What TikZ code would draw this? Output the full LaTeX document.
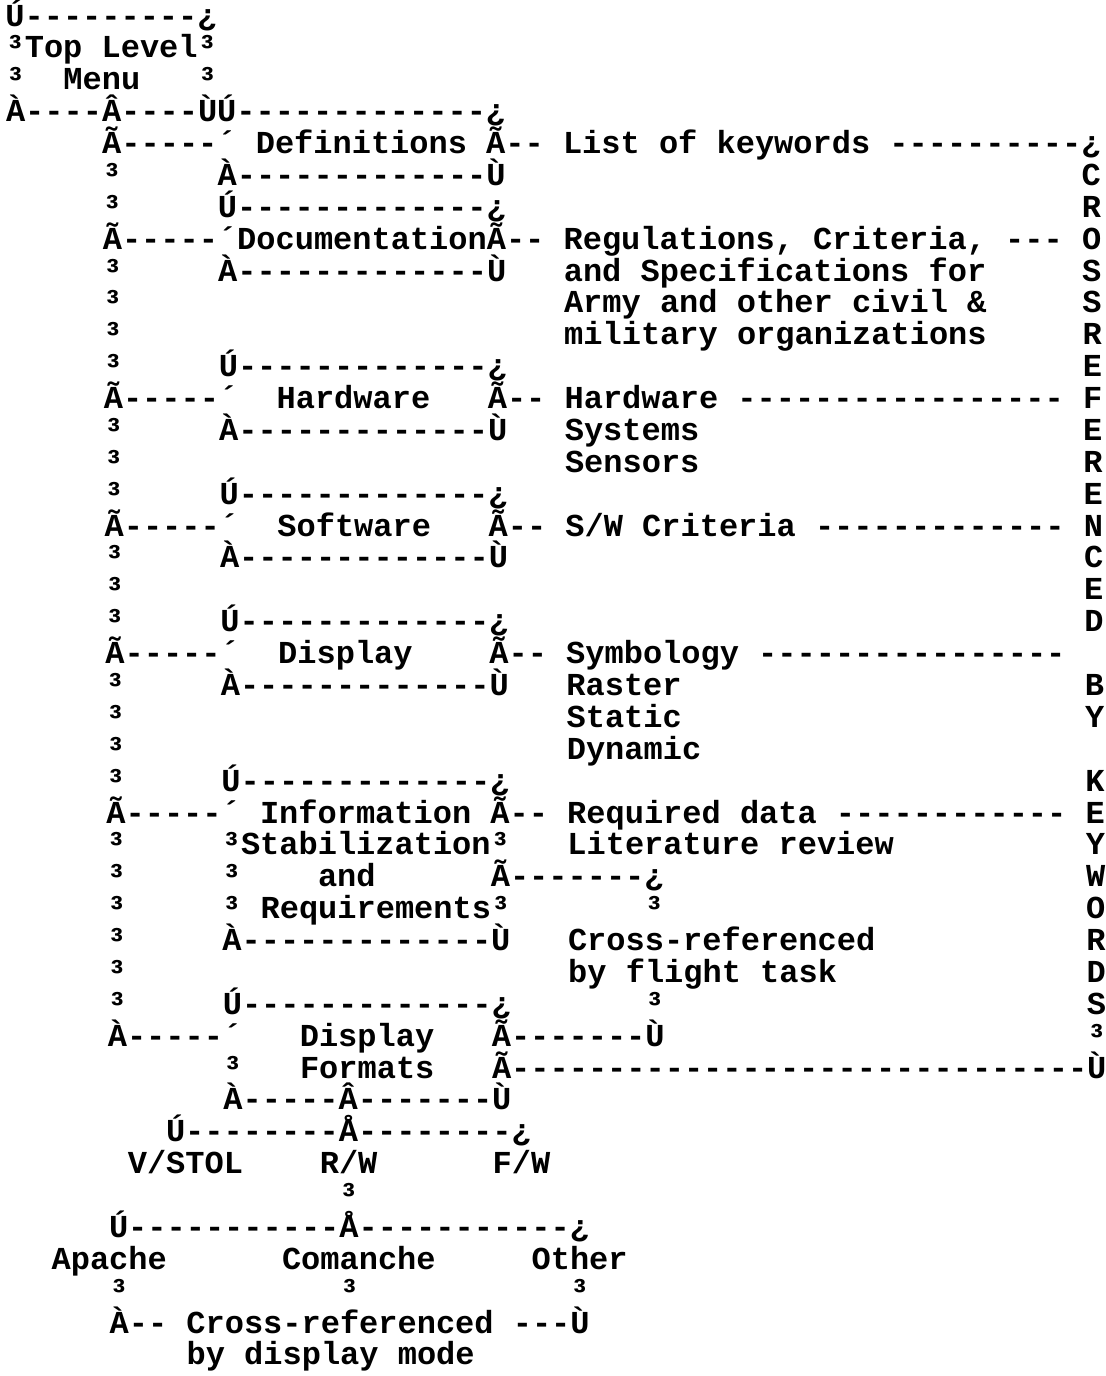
\documentclass[tikz,border=0pt]{standalone}
\usepackage{fontspec}
\setmonofont{Liberation Mono}
\begin{document}
\begin{tikzpicture}[x=0.5pt,y=-0.5pt,
  txt/.style={anchor=base west,inner sep=0pt,outer sep=0pt,
    font=\ttfamily\bfseries\fontsize{16}{16}\selectfont}]
\useasboundingbox (0,0) rectangle (1106,1376);
\newcommand\T[4]{\node[txt] (#1) at ({5.4+#2*19.2+0.2*(#3-1)},{26+(#3-1)*31.88}) {#4};}
% top level menu
\T{a1}{0}{1}{Ú---------¿}
\T{a2}{0}{2}{³Top Level³}
\T{a3a}{0}{3}{³}\T{a3b}{3}{3}{Menu}\T{a3c}{10}{3}{³}
\T{a4}{0}{4}{À----Â----ÙÚ-------------¿}
% definitions
\T{a5}{5}{5}{Ã-----´ Definitions Ã-- List of keywords ----------¿}
\T{a6a}{5}{6}{³}\T{a6b}{11}{6}{À-------------Ù}\T{a6c}{56}{6}{C}
\T{a7a}{5}{7}{³}\T{a7b}{11}{7}{Ú-------------¿}\T{a7c}{56}{7}{R}
% documentation
\T{a8}{5}{8}{Ã-----´DocumentationÃ-- Regulations, Criteria, --- O}
\T{a9a}{5}{9}{³}\T{a9b}{11}{9}{À-------------Ù}\T{a9c}{29}{9}{and Specifications for}\T{a9d}{56}{9}{S}
\T{a10a}{5}{10}{³}\T{a10b}{29}{10}{Army and other civil \&}\T{a10c}{56}{10}{S}
\T{a11a}{5}{11}{³}\T{a11b}{29}{11}{military organizations}\T{a11c}{56}{11}{R}
\T{a12a}{5}{12}{³}\T{a12b}{11}{12}{Ú-------------¿}\T{a12c}{56}{12}{E}
% hardware
\T{a13a}{5}{13}{Ã-----´}\T{a13b}{14}{13}{Hardware}\T{a13c}{25}{13}{Ã-- Hardware -----------------}\T{a13d}{56}{13}{F}
\T{a14a}{5}{14}{³}\T{a14b}{11}{14}{À-------------Ù}\T{a14c}{29}{14}{Systems}\T{a14d}{56}{14}{E}
\T{a15a}{5}{15}{³}\T{a15b}{29}{15}{Sensors}\T{a15c}{56}{15}{R}
\T{a16a}{5}{16}{³}\T{a16b}{11}{16}{Ú-------------¿}\T{a16c}{56}{16}{E}
% software
\T{a17a}{5}{17}{Ã-----´}\T{a17b}{14}{17}{Software}\T{a17c}{25}{17}{Ã-- S/W Criteria -------------}\T{a17d}{56}{17}{N}
\T{a18a}{5}{18}{³}\T{a18b}{11}{18}{À-------------Ù}\T{a18c}{56}{18}{C}
\T{a19a}{5}{19}{³}\T{a19b}{56}{19}{E}
\T{a20a}{5}{20}{³}\T{a20b}{11}{20}{Ú-------------¿}\T{a20c}{56}{20}{D}
% display
\T{a21a}{5}{21}{Ã-----´}\T{a21b}{14}{21}{Display}\T{a21c}{25}{21}{Ã-- Symbology ----------------}
\T{a22a}{5}{22}{³}\T{a22b}{11}{22}{À-------------Ù}\T{a22c}{29}{22}{Raster}\T{a22d}{56}{22}{B}
\T{a23a}{5}{23}{³}\T{a23b}{29}{23}{Static}\T{a23c}{56}{23}{Y}
\T{a24a}{5}{24}{³}\T{a24b}{29}{24}{Dynamic}
\T{a25a}{5}{25}{³}\T{a25b}{11}{25}{Ú-------------¿}\T{a25c}{56}{25}{K}
% information
\T{a26a}{5}{26}{Ã-----´ Information Ã-- Required data ------------}\T{a26b}{56}{26}{E}
\T{a27a}{5}{27}{³}\T{a27b}{11}{27}{³Stabilization³}\T{a27c}{29}{27}{Literature review}\T{a27d}{56}{27}{Y}
\T{a28a}{5}{28}{³}\T{a28b}{11}{28}{³}\T{a28c}{16}{28}{and}\T{a28d}{25}{28}{Ã-------¿}\T{a28e}{56}{28}{W}
\T{a29a}{5}{29}{³}\T{a29b}{11}{29}{³}\T{a29c}{13}{29}{Requirements³}\T{a29d}{33}{29}{³}\T{a29e}{56}{29}{O}
\T{a30a}{5}{30}{³}\T{a30b}{11}{30}{À-------------Ù}\T{a30c}{29}{30}{Cross-referenced}\T{a30d}{56}{30}{R}
\T{a31a}{5}{31}{³}\T{a31b}{29}{31}{by flight task}\T{a31c}{56}{31}{D}
\T{a32a}{5}{32}{³}\T{a32b}{11}{32}{Ú-------------¿}\T{a32c}{33}{32}{³}\T{a32d}{56}{32}{S}
% display formats
\T{a33a}{5}{33}{À-----´}\T{a33b}{15}{33}{Display}\T{a33c}{25}{33}{Ã-------Ù}\T{a33d}{56}{33}{³}
\T{a34a}{11}{34}{³}\T{a34b}{15}{34}{Formats}\T{a34c}{25}{34}{Ã------------------------------Ù}
\T{a35}{11}{35}{À-----Â-------Ù}
\T{a36}{8}{36}{Ú--------Å--------¿}
\T{a37a}{6}{37}{V/STOL}\T{a37b}{16}{37}{R/W}\T{a37c}{25}{37}{F/W}
\T{a38}{17}{38}{³}
\T{a39}{5}{39}{Ú-----------Å-----------¿}
\T{a40a}{2}{40}{Apache}\T{a40b}{14}{40}{Comanche}\T{a40c}{27}{40}{Other}
\T{a41a}{5}{41}{³}\T{a41b}{17}{41}{³}\T{a41c}{29}{41}{³}
\T{a42}{5}{42}{À-- Cross-referenced ---Ù}
\T{a43}{9}{43}{by display mode}
\end{tikzpicture}
\end{document}
